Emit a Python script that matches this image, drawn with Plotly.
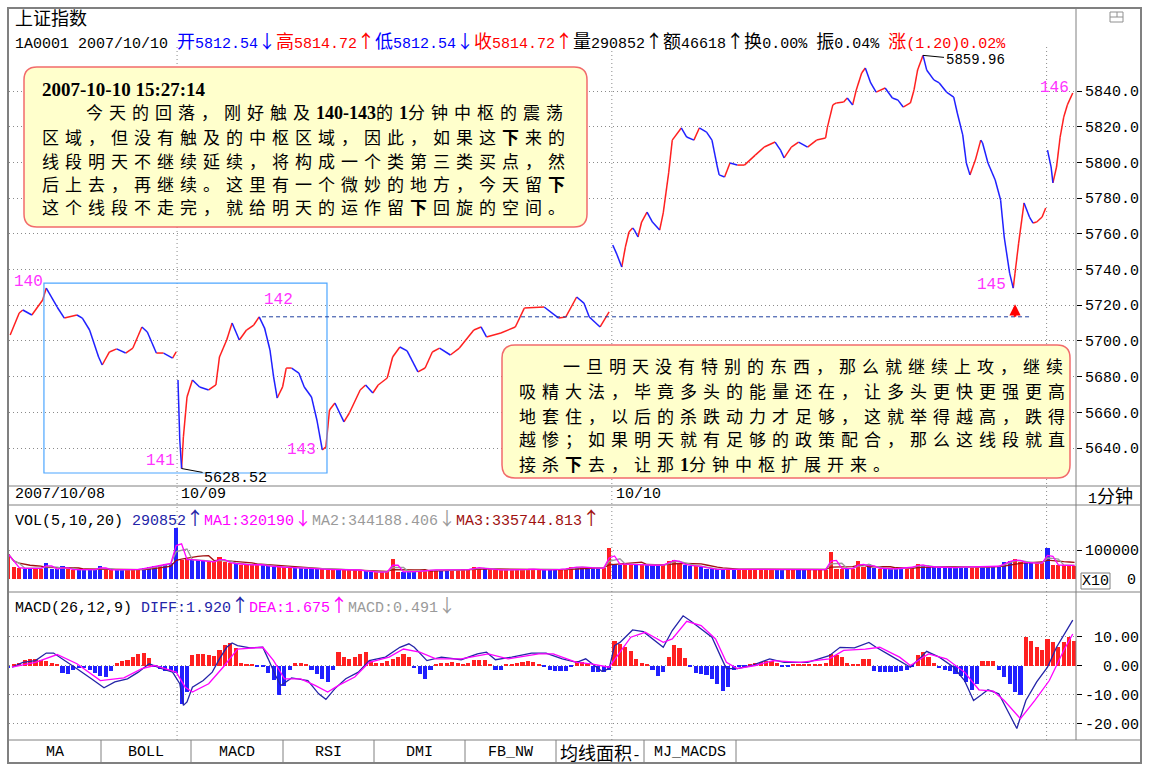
import numpy as np
import pandas as pd
import plotly.graph_objects as go

W, H = 1151, 769
def fx(px): return px / W
def fy(py): return 1 - py / H

# ---------------- data ----------------
# x = 1-minute bar index (0 = first visible minute, 2007/10/08 afternoon)
day_labels = ["2007/10/08", "10/09", "10/10"]
day_sep = [93.5, 334.5, 575.5]

p1_x = [1, 6, 8, 13, 19, 21, 27, 31, 38, 41, 45, 50, 52, 56, 60, 65, 69, 74, 77, 82, 86, 91, 93]
p1_y = [5703.3, 5715.6, 5717.3, 5714.5, 5722.9, 5729.6, 5719.0, 5712.8, 5714.5, 5712.8, 5706.1, 5691.0,
        5686.5, 5693.8, 5695.5, 5693.2, 5696.0, 5707.8, 5705.0, 5693.2, 5693.2, 5690.4, 5693.8]
p2_x = [94, 95, 96, 97, 99, 102, 106, 111, 115, 117, 121, 124, 128, 132, 136, 139, 142, 145, 147, 149,
        152, 154, 157, 161, 164, 168, 171, 174, 176, 178, 181, 186, 189, 195, 198, 202, 205, 210, 213, 217,
        221, 227, 231, 235, 239, 245, 250, 258, 262, 265, 273, 281, 286, 297, 305, 309, 315, 319, 322, 328, 333]
p2_y = [5678.1, 5644.5, 5628.5, 5646.2, 5668.6, 5678.1, 5674.2, 5672.5, 5675.3, 5691.0,
        5700.5, 5710.0, 5700.5, 5706.1, 5708.9, 5713.5, 5707.2, 5694.9, 5679.8, 5668.0,
        5674.2, 5684.8, 5684.8, 5682.0, 5674.2, 5668.6, 5655.7, 5638.9, 5640.6, 5661.3,
        5665.2, 5654.6, 5659.6, 5672.5, 5675.3, 5670.8, 5675.3, 5679.2, 5691.0, 5696.6,
        5694.4, 5682.6, 5684.8, 5693.8, 5696.0, 5692.1, 5696.0, 5706.1, 5707.8, 5702.2,
        5704.4, 5707.8, 5718.4, 5719.0, 5712.8, 5713.4, 5724.6, 5721.2, 5713.4, 5707.8, 5716.2]
p3_x = [335, 337, 340, 342, 344, 346, 347, 349, 351, 354, 357, 361, 363, 366, 368, 373, 376, 380, 383, 387,
        390, 393, 394, 397, 400, 404, 408, 414, 419, 425, 428, 430, 434, 438, 443, 448, 453, 454, 457, 459,
        463, 465, 468, 470, 473, 475, 478, 481, 486, 490, 493, 496, 500, 502, 504, 507, 509, 513, 516, 520,
        524, 526, 529, 531, 533, 536, 539, 540, 543, 547, 550, 552, 555, 557, 558, 560, 563, 566, 568, 570,
        573, 575]
p3_y = [5753.7, 5749.2, 5741.4, 5752.6, 5761.0, 5763.2, 5762.1, 5758.2, 5766.6, 5772.2,
        5766.6, 5762.1, 5771.7, 5794.1, 5812.5, 5819.3, 5814.2, 5812.5, 5819.3, 5817.0,
        5812.5, 5797.4, 5793.0, 5791.8, 5799.7, 5798.5, 5798.5, 5804.1, 5808.6, 5811.4,
        5806.9, 5802.5, 5808.6, 5811.4, 5808.6, 5812.5, 5813.7, 5819.8, 5832.2, 5833.3,
        5833.8, 5836.1, 5832.2, 5840.6, 5850.1, 5852.9, 5844.5, 5839.4, 5841.7, 5836.1,
        5835.0, 5831.0, 5833.3, 5840.6, 5851.8, 5859.96, 5851.8, 5846.2, 5844.5, 5839.4,
        5836.6, 5827.7, 5815.4, 5799.7, 5793.0, 5801.3, 5812.5, 5810.9, 5799.7, 5790.1,
        5778.9, 5758.2, 5738.0, 5729.6, 5738.0, 5754.8, 5777.3, 5769.4, 5766.0, 5766.6,
        5769.4, 5774.5]
p4_x = [576, 578, 579, 581, 583, 585, 587, 590]
p4_y = [5806.9, 5797.4, 5788.5, 5797.4, 5814.2, 5825.4, 5832.2, 5838.9]

# volume & MACD histogram, one value per 3 minutes (x = 0, 3, 6, ...)
bar_step = 3
vol = [85000, 40000, 38000, 36000, 38000, 37000, 36000, 55000, 35000, 33000,
       44000, 33000, 32000, 33000, 31000, 32000, 33000, 44000, 32000, 31000,
       32000, 31000, 30000, 32000, 34000, 37000, 40000, 44000, 48000, 52000,
       55000, 176000, 66000, 68000, 65000, 66000, 62000, 60000, 58000, 75000,
       58000, 55000, 52000, 50000, 50000, 48000, 52000, 47000, 44000, 42000,
       41000, 40000, 40000, 38000, 38000, 36000, 34000, 33000, 33000, 32000,
       33000, 32000, 33000, 31000, 32000, 30000, 26000, 25000, 24000, 24000,
       25000, 70000, 25000, 24000, 25000, 26000, 27000, 30000, 32000, 31000,
       32000, 31000, 30000, 32000, 33000, 32000, 40000, 38000, 35000, 33000,
       31000, 32000, 31000, 32000, 30000, 31000, 35000, 33000, 31000, 32000,
       31000, 32000, 34000, 36000, 40000, 42000, 40000, 38000, 38000, 37000,
       38000, 107000, 52000, 50000, 52000, 50000, 48000, 50000, 48000, 47000,
       46000, 50000, 62000, 66000, 55000, 48000, 46000, 45000, 42000, 36000,
       34000, 33000, 34000, 33000, 34000, 35000, 34000, 33000, 32000, 33000,
       34000, 33000, 32000, 33000, 34000, 32000, 33000, 32000, 33000, 34000,
       33000, 32000, 92000, 36000, 35000, 38000, 34000, 61000, 40000, 52000,
       38000, 36000, 35000, 34000, 36000, 38000, 40000, 41000, 52000, 45000,
       42000, 40000, 41000, 40000, 39000, 40000, 42000, 41000, 40000, 42000,
       41000, 42000, 43000, 45000, 58000, 62000, 68000, 60000, 55000, 55000,
       54000, 56000, 107000, 50000, 48000, 47000, 48000, 46000]
hist = [-0.8, 0.3, 1.0, 1.8, 2.1, 2.2, 2.0, 1.6, 1.0, 0.3,
        -2.5, -3.0, -1.5, -1.0, -1.0, -1.5, -2.5, -3.5, -4.0, -2.0,
        1.0, 1.5, 2.0, 2.9, 4.0, 4.3, 2.5, -0.5, -1.2, -1.8,
        -2.0, -2.5, -13.2, -9.0, 3.5, 4.0, 4.0, 3.6, 3.4, 5.5,
        7.0, 7.8, 6.0, 1.0, 0.3, 0.2, -0.2, -0.5, -2.5, -5.0,
        -10.3, -7.0, -1.7, 0.8, 0.8, 0.5, -1.5, -3.0, -4.5, -5.7,
        -1.7, 4.6, 3.0, 2.3, 3.0, 4.0, 4.6, 1.7, 0.8, 0.8,
        1.5, 2.3, 3.0, 4.0, 2.9, -1.0, -2.9, -4.6, -1.7, 0.5,
        0.8, 1.0, 1.1, 0.8, 0.5, 1.0, 2.0, 2.0, 2.0, 0.5,
        -1.7, -1.7, 0.3, 0.5, 0.8, 1.2, 1.7, 1.2, 0.6, -0.5,
        -1.5, -2.0, -2.0, -2.0, -0.5, 1.5, 1.2, 0.5, -2.3, -2.3,
        -2.3, -1.5, 8.6, 7.5, 6.3, 5.0, 2.3, 0.8, 0.3, -1.5,
        -3.8, -2.3, 3.0, 7.0, 6.0, 2.5, -0.5, -2.5, -3.0, -3.4,
        -4.5, -6.3, -8.9, -7.5, -1.7, -0.5, -0.3, 0.3, 0.8, 1.1,
        1.7, 1.5, 0.8, -0.6, -0.6, 0.2, 0.3, 0.3, 0.2, 0.3,
        0.3, 1.0, 4.0, 3.5, 2.9, 0.8, 0.2, 0.3, 2.3, 2.3,
        -2.0, -2.3, -2.3, -2.3, -2.3, -2.0, -1.5, -0.5, 3.5, 4.6,
        2.9, 0.8, -0.8, -1.5, -2.0, -2.9, -3.5, -5.7, -8.6, -6.3,
        1.7, 1.7, 1.5, -1.5, -4.0, -6.5, -9.0, -10.3, 9.8, 8.6,
        6.3, 5.2, 9.0, 8.0, 6.3, 8.0, 9.8, 8.6]

diff_x = [2, 8, 15, 21, 25, 30, 38, 46, 53, 59, 66, 72, 78, 85, 91, 95, 97, 99, 102, 108,
          113, 117, 121, 124, 127, 134, 141, 144, 148, 151, 157, 166, 172, 176, 181, 187, 194, 200, 209, 217,
          222, 225, 232, 240, 251, 260, 265, 270, 279, 290, 298, 307, 315, 320, 325, 329, 333, 336, 339, 346,
          352, 357, 363, 368, 374, 378, 384, 390, 395, 398, 404, 412, 422, 430, 443, 455, 461, 469, 477, 481,
          489, 500, 505, 509, 516, 524, 530, 535, 539, 543, 549, 555, 559, 564, 570, 576, 581, 590]
diff_y = [-0.6, 1.1, 1.7, 4.3, 4.3, 2.3, -1.1, -4.6, -7.7, -5.7, -4.6, -2.3, 0.6, -1.1, -2.3, -6.3, -13.8, -12.6, -7.5, -5.2,
          -2.3, 2.3, 6.3, 7.8, 6.9, 6.1, 6.3, 2.3, -3.4, -6.9, -4.3, -5.2, -9.8, -11.7, -8.0, -4.6, -2.3, 1.7, 2.9, 6.3,
          7.5, 6.3, 1.7, 2.9, 2.0, 4.0, 4.6, 2.0, 2.9, 4.3, 4.3, 2.3, 1.1, 2.3, 0.0, -2.0, -1.1, 6.9, 8.0, 12.3,
          11.7, 9.2, 6.3, 12.1, 17.2, 15.5, 12.6, 9.8, 2.9, -1.1, -1.1, 0.0, 2.3, 1.1, 1.1, 3.4, 6.3, 6.1, 8.0, 6.3,
          3.4, -0.6, 2.3, 4.9, 2.9, -0.6, -5.2, -12.1, -10.3, -8.4, -9.8, -16.7, -21.8, -12.1, -5.7, -0.6, 6.3, 15.7]
dea_x = [2, 15, 27, 38, 51, 64, 74, 81, 93, 98, 102, 111, 119, 127, 141, 147, 153, 162, 170, 177,
         183, 192, 200, 211, 219, 228, 237, 251, 266, 277, 294, 302, 315, 323, 333, 339, 345, 353, 363, 368,
         376, 384, 392, 398, 404, 414, 424, 439, 455, 463, 475, 483, 494, 500, 510, 520, 530, 538, 546, 552,
         561, 569, 577, 585, 590]
dea_y = [-0.6, 1.1, 3.8, 0.6, -5.2, -4.3, -1.1, 0.0, -2.3, -7.5, -9.2, -6.3, -0.6, 5.7, 6.3, 1.7, -4.6, -4.6, -6.9, -9.2,
         -6.9, -4.0, 1.1, 2.9, 5.7, 4.6, 2.3, 2.3, 4.0, 2.3, 4.0, 4.0, 1.1, 0.6, -0.6, 4.6, 9.8, 11.5, 8.0, 9.2,
         15.3, 13.8, 9.2, 1.1, -1.1, 0.0, 1.7, 1.1, 2.3, 5.2, 5.7, 6.3, 2.9, 0.0, 4.0, 2.3, -2.3, -8.4, -8.9, -12.1,
         -18.4, -12.1, -5.2, 5.2, 10.9]

price_ticks = [5640, 5660, 5680, 5700, 5720, 5740, 5760, 5780, 5800, 5820, 5840]
vol_ticks = [100000]
macd_ticks = [-20, -10, 0, 10]
tab_names = ["MA", "BOLL", "MACD", "RSI", "DMI", "FB_NW", "均线面积-", "MJ_MACDS"]

# ---------------- styling helpers ----------------
RED, BLUE = "#FF2020", "#2020FF"
NAVY, MAG, GRAY, DRED = "#2424A8", "#FF00FF", "#9A9A9A", "#A01010"
MONO = "Liberation Mono"
CJK = "Noto Sans CJK SC"
FRAME = "#808080"

def _wrap(run, full, size):
    run = run.replace(" ", "\u00a0")
    if full:
        return '<span style="font-family:Noto Sans CJK SC;font-size:%dpx">%s</span>' % (size, run)
    return run

def mixed(s, size=18):
    out, run, full = [], "", None
    for ch in s:
        f = ord(ch) >= 0x2000
        if full is not None and f != full:
            out.append(_wrap(run, full, size)); run = ""
        full = f; run += ch
    if run:
        out.append(_wrap(run, full, size))
    return "".join(out)

def col(s, c):
    return '<span style="color:%s">%s</span>' % (c, mixed(s))

def note(px, py, text, size=15, color="#000", anchor="left", family=MONO):
    return dict(xref="paper", yref="paper", x=fx(px), y=fy(py), xanchor=anchor, yanchor="middle",
                showarrow=False, text=text, font=dict(family=family, size=size, color=color))

def serifb(s, size=18):
    return ('<span style="font-family:Liberation Serif;font-weight:bold;font-size:%dpx;letter-spacing:0px">%s</span>'
            % (size, s))

def box_line(px, py, content):
    return note(px, py, '<span style="letter-spacing:6px">%s</span>' % content, size=17, family=CJK)

def rrect(x0, y0, x1, y1, r):
    rx, ry = r / W, r / H
    X0, X1, Y0, Y1 = fx(x0), fx(x1), fy(y0), fy(y1)
    return (f"M {X0+rx},{Y0} L {X1-rx},{Y0} Q {X1},{Y0} {X1},{Y0-ry} L {X1},{Y1+ry} "
            f"Q {X1},{Y1} {X1-rx},{Y1} L {X0+rx},{Y1} Q {X0},{Y1} {X0},{Y1+ry} "
            f"L {X0},{Y0-ry} Q {X0},{Y0} {X0+rx},{Y0} Z")

# ---------------- traces ----------------
fig = go.Figure()

rx_, ry_, bx_, by_ = [], [], [], []
for xs, ys in [(p1_x, p1_y), (p2_x, p2_y), (p3_x, p3_y), (p4_x, p4_y)]:
    for a in range(len(xs) - 1):
        if ys[a + 1] >= ys[a]:
            rx_ += [xs[a], xs[a + 1], None]; ry_ += [ys[a], ys[a + 1], None]
        else:
            bx_ += [xs[a], xs[a + 1], None]; by_ += [ys[a], ys[a + 1], None]
fig.add_trace(go.Scatter(x=rx_, y=ry_, mode="lines", line=dict(color=RED, width=1.5), hoverinfo="skip"))
fig.add_trace(go.Scatter(x=bx_, y=by_, mode="lines", line=dict(color=BLUE, width=1.5), hoverinfo="skip"))

# volume
all_x = np.array(p1_x + p2_x + p3_x + p4_x, dtype=float)
all_y = np.array(p1_y + p2_y + p3_y + p4_y, dtype=float)
bar_x = np.arange(len(vol)) * bar_step
vcols = []
for bx in bar_x:
    j = int(np.clip(np.searchsorted(all_x, bx, side="right"), 1, len(all_x) - 1))
    vcols.append(RED if all_y[j] >= all_y[j - 1] else BLUE)
fig.add_trace(go.Bar(x=bar_x, y=vol, width=2.3, marker=dict(color=vcols, line=dict(width=0)),
                     xaxis="x2", yaxis="y2", hoverinfo="skip"))
vs = pd.Series(vol, dtype=float)
for w, c in [(7, DRED), (3, GRAY), (2, MAG)]:
    fig.add_trace(go.Scatter(x=bar_x, y=vs.rolling(w, min_periods=1).mean(), mode="lines",
                             line=dict(color=c, width=1.3), xaxis="x2", yaxis="y2", hoverinfo="skip"))

# MACD
hcols = [RED if v >= 0 else BLUE for v in hist]
fig.add_trace(go.Bar(x=bar_x, y=hist, width=2.3, marker=dict(color=hcols, line=dict(width=0)),
                     xaxis="x3", yaxis="y3", hoverinfo="skip"))
fig.add_trace(go.Scatter(x=diff_x, y=diff_y, mode="lines", line=dict(color=NAVY, width=1.3),
                         xaxis="x3", yaxis="y3", hoverinfo="skip"))
fig.add_trace(go.Scatter(x=dea_x, y=dea_y, mode="lines", line=dict(color=MAG, width=1.3),
                         xaxis="x3", yaxis="y3", hoverinfo="skip"))

# ---------------- axes ----------------
xr = [(9 - 8.4) / 1.804, (1076 - 8.4) / 1.804]
xcommon = dict(domain=[fx(9), fx(1076)], range=xr, showgrid=False, showticklabels=False,
               zeroline=False, showline=False, ticks="")
grid = dict(showgrid=True, gridcolor="#8a8a8a", griddash="1px,3px", gridwidth=1, zeroline=False,
            side="right", ticks="outside", ticklen=5, tickcolor="#000", showline=False,
            tickfont=dict(family=MONO, size=15, color="#000"))
s_p = 357 / 200.0
s_v = 29 / 100000.0
s_m = 28.9 / 10.0
fig.update_layout(
    xaxis=dict(**xcommon, anchor="y"),
    xaxis2=dict(**xcommon, anchor="y2", matches="x"),
    xaxis3=dict(**xcommon, anchor="y3", matches="x"),
    yaxis=dict(**grid, domain=[fy(486), fy(48)], anchor="x",
               range=[5640 - (486 - 448) / s_p, 5840 + (91 - 48) / s_p],
               tickvals=price_ticks, ticktext=["%.1f" % v for v in price_ticks]),
    yaxis2=dict(**grid, domain=[fy(592), fy(505)], anchor="x2",
                range=[-(592 - 579) / s_v, (579 - 505) / s_v],
                tickvals=vol_ticks, ticktext=["%d" % v for v in vol_ticks]),
    yaxis3=dict(**grid, domain=[fy(740), fy(592)], anchor="x3",
                range=[-(740 - 665.5) / s_m, (665.5 - 592) / s_m],
                tickvals=macd_ticks, ticktext=[("%.2f" % v).rjust(6, "\u00a0") for v in macd_ticks]),
)

# ---------------- shapes ----------------
shapes = []
def pline(x0, y0, x1, y1, color=FRAME, width=1, dash=None, layer="above"):
    d = dict(type="line", xref="paper", yref="paper", x0=fx(x0), y0=fy(y0), x1=fx(x1), y1=fy(y1),
             line=dict(color=color, width=width), layer=layer)
    if dash: d["line"]["dash"] = dash
    shapes.append(d)

# day separators (dotted)
for s in day_sep:
    shapes.append(dict(type="line", xref="x", yref="paper", x0=s, x1=s, y0=fy(740), y1=fy(46),
                       line=dict(color="#8a8a8a", width=1, dash="1px,3px"), layer="below"))
# frame
shapes.append(dict(type="rect", xref="paper", yref="paper", x0=fx(8), y0=fy(763), x1=fx(1141), y1=fy(8),
                   line=dict(color=FRAME, width=2), layer="above"))
for yy in [486, 505, 592, 740]:
    pline(8, yy, 1141, yy)
pline(1076, 8, 1076, 740)
for xx in [101, 191, 283, 374, 465, 556, 644, 736]:
    pline(xx, 740, xx, 763)
# X10 box & small icon
shapes.append(dict(type="rect", xref="paper", yref="paper", x0=fx(1081), y0=fy(589), x1=fx(1110), y1=fy(573),
                   line=dict(color=FRAME, width=1), layer="above"))
shapes.append(dict(type="rect", xref="paper", yref="paper", x0=fx(1110), y0=fy(22), x1=fx(1123), y1=fy(12),
                   line=dict(color="#909090", width=1), layer="above"))
pline(1110, 17, 1123, 17, color="#909090")
pline(1117, 12, 1117, 17, color="#909090")
# zhongshu rectangle (140-143)
shapes.append(dict(type="rect", xref="x", yref="y", x0=19.7, x1=176.6, y0=5626.0, y1=5732.4,
                   line=dict(color="#4DA6FF", width=1.2), layer="above"))
# 142 level dashed line
shapes.append(dict(type="line", xref="x", yref="y", x0=140.6, x1=566, y0=5713.5, y1=5713.5,
                   line=dict(color="#1F3F9F", width=1, dash="4px,3px"), layer="above"))
# comment boxes
for (a, b, c, d) in [(24, 67, 587, 227), (502, 345, 1070, 478)]:
    shapes.append(dict(type="path", xref="paper", yref="paper", path=rrect(a, b, c, d, 13),
                       fillcolor="#FFFFCC", line=dict(color="#F26B6B", width=1.5), layer="above"))

# ---------------- annotations ----------------
ann = []
ann.append(note(13, 17, mixed("上证指数")))
line2 = ("1A0001\u00a02007/10/10\u00a0" + col("开5812.54↓", "#0000FF") + col("高5814.72↑", "#FF0000")
         + col("低5812.54↓", "#0000FF") + col("收5814.72↑", "#FF0000")
         + mixed("量290852↑额46618↑换0.00% 振0.04% ") + col("涨(1.20)0.02%", "#FF0000"))
ann.append(note(13, 40, line2))
# date row
ann.append(note(13, 495, day_labels[0]))
for lbl, s in zip(day_labels[1:], day_sep[:2]):
    ann.append(dict(xref="x", yref="paper", x=s, y=fy(495), xanchor="left", yanchor="middle", xshift=2,
                    showarrow=False, text=lbl, font=dict(family=MONO, size=15, color="#000")))
ann.append(note(1086, 495, mixed("1分钟")))
# VOL / MACD headers
ann.append(note(13, 517, mixed("VOL(5,10,20) ") + col("290852↑", NAVY) + col("MA1:320190↓", MAG)
                + col("MA2:344188.406↓", GRAY) + col("MA3:335744.813↑", DRED)))
ann.append(note(13, 604, mixed("MACD(26,12,9) ") + col("DIFF:1.920↑", NAVY) + col("DEA:1.675↑", MAG)
                + col("MACD:0.491↓", GRAY)))
ann.append(note(1138, 580, "0", anchor="right"))
ann.append(note(1095.5, 581, "X10", anchor="center"))
# tabs
tab_edges = [9, 101, 191, 283, 374, 465, 556, 644, 736]
for i, t in enumerate(tab_names):
    ann.append(note((tab_edges[i] + tab_edges[i + 1]) / 2, 752, mixed(t), anchor="center"))
# pivot labels
for t, px, py in [("140", 12, 282), ("141", 144, 461), ("142", 262, 300), ("143", 285, 450),
                  ("145", 975, 285), ("146", 1038, 88)]:
    ann.append(note(px, py, t, size=16, color="#FF33FF"))
# low / high value labels with leaders
ann.append(dict(xref="x", yref="y", x=96, y=5628.5, text="5628.52", showarrow=True, arrowhead=0,
                arrowwidth=1, arrowcolor="#000", ax=54, ay=10, standoff=0,
                font=dict(family=MONO, size=15, color="#000")))
ann.append(dict(xref="x", yref="y", x=507, y=5859.96, text="5859.96", showarrow=True, arrowhead=0,
                arrowwidth=1, arrowcolor="#000", ax=52, ay=5, standoff=0,
                font=dict(family=MONO, size=14, color="#000")))
# red buy arrow
ann.append(dict(xref="x", yref="y", x=558, y=5720.6, text="", showarrow=True, arrowhead=2, arrowsize=0.9,
                arrowwidth=2.5, arrowcolor="#FF0000", ax=0, ay=14, standoff=0))
# comment box 1
ann.append(note(40, 89, serifb("2007-10-10 15:27:14", 19), family="Liberation Serif"))
B = lambda s: "<b>%s</b>" % s
box1 = [(84, 112, "今天的回落，刚好触及" + serifb("140-143") + "的" + serifb("1") + "分钟中枢的震荡"),
        (40, 136, "区域，但没有触及的中枢区域，因此，如果这" + B("下") + "来的"),
        (40, 160, "线段明天不继续延续，将构成一个类第三类买点，然"),
        (40, 184, "后上去，再继续。这里有一个微妙的地方，今天留" + B("下")),
        (40, 207, "这个线段不走完，就给明天的运作留" + B("下") + "回旋的空间。")]
box2 = [(561, 365, "一旦明天没有特别的东西，那么就继续上攻，继续"),
        (517, 390, "吸精大法，毕竟多头的能量还在，让多头更快更强更高"),
        (517, 415, "地套住，以后的杀跌动力才足够，这就举得越高，跌得"),
        (517, 439, "越惨；如果明天就有足够的政策配合，那么这线段就直"),
        (517, 463, "接杀" + B("下") + "去，让那" + serifb("1") + "分钟中枢扩展开来。")]
for px, py, t in box1 + box2:
    ann.append(box_line(px, py, t))

fig.update_layout(
    shapes=shapes, annotations=ann, showlegend=False,
    width=W, height=H, margin=dict(l=0, r=0, t=0, b=0),
    paper_bgcolor="white", plot_bgcolor="white", bargap=0,
    font=dict(family="Liberation Mono, Noto Sans CJK SC", size=15, color="#000"),
)

fig.write_html("out.html", config={"displayModeBar": False},
               post_script="document.body.style.margin='0';document.documentElement.style.overflow='hidden';")
